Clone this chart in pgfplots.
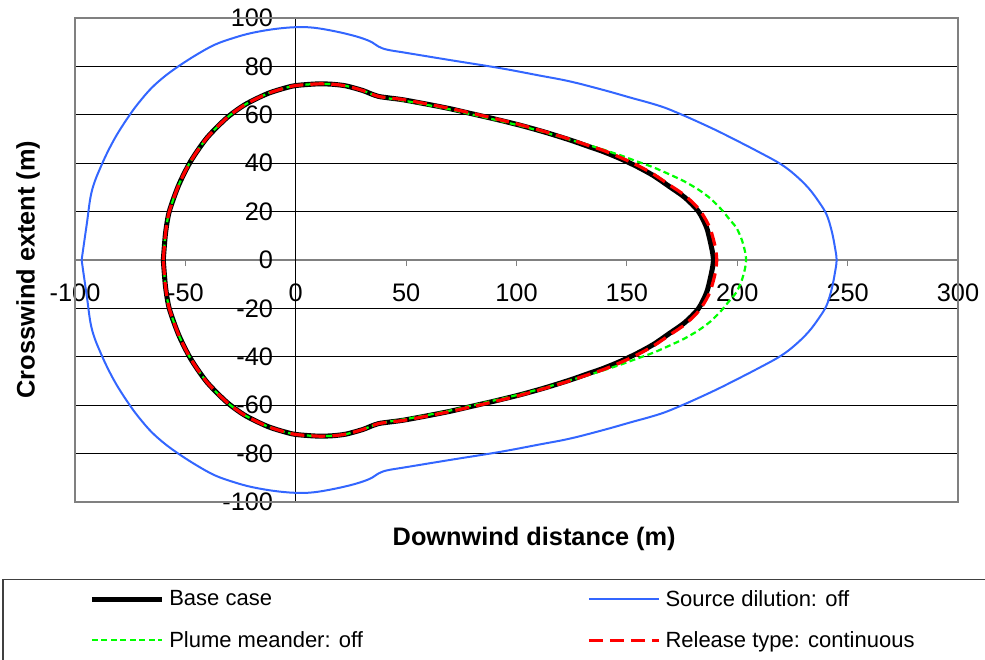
\documentclass[border=0pt]{standalone}
\usepackage{pgfplots}
\pgfplotsset{compat=1.18}
\usepackage{fontspec}
\setmainfont{Liberation Sans}
\newlength\pxu
\setlength\pxu{0.75pt}
\definecolor{dilblue}{RGB}{51,102,255}
\definecolor{megreen}{RGB}{0,255,0}
\definecolor{relred}{RGB}{255,0,0}
\newcommand{\legtext}[2]{\makebox[#1][l]{\hspace*{5\pxu}\fontsize{16.5pt}{18pt}\selectfont #2}}
\begin{document}
\begin{tikzpicture}
\useasboundingbox (0,0) rectangle (985\pxu,-660\pxu);
\begin{axis}[
  at={(75\pxu,-502\pxu)}, anchor=south west,
  scale only axis, width=883\pxu, height=484\pxu,
  xmin=-100, xmax=300, ymin=-100, ymax=100,
  axis lines=middle,
  axis line style={-},
  x axis line style={draw=gray, line width=1.2\pxu},
  y axis line style={draw=black, line width=1\pxu},
  hide obscured x ticks=false, hide obscured y ticks=false,
  xtick={-100,-50,...,300}, ytick={-100,-80,...,100},
  tick align=outside, major tick length=6\pxu,
  xtick style={draw=gray, line width=1\pxu},
  ytick style={draw=black, line width=1\pxu},
  ymajorgrids, grid style={black, line width=0.9\pxu},
  /pgf/number format/assume math mode=true,
  tick label style={font=\fontsize{19pt}{21pt}\selectfont},
  xticklabel style={anchor=north, yshift=-13\pxu},
  yticklabel style={anchor=east, xshift=-12\pxu},
  xlabel={Downwind distance (m)}, ylabel={Crosswind extent (m)},
  label style={font=\bfseries\fontsize{19pt}{21pt}\selectfont},
  xlabel style={at={(rel axis cs:0.52,0)}, anchor=center, yshift=-37\pxu},
  ylabel style={at={(rel axis cs:-0.0532,0.48)}, anchor=center, rotate=90},
  legend columns=2,
  legend cell align=left,
  legend style={at={(rel axis cs:0.0159,-0.158)}, anchor=north west, draw=none, fill=none,
    inner sep=0pt, row sep=0pt, column sep=0pt,
    nodes={inner sep=0pt}},
  legend image code/.code={\path[draw=none] (0,-20.5\pxu) -- (0,20.5\pxu); \draw[#1] (0,0) -- (70\pxu,0);},
  after end axis/.code={\draw[gray, line width=2.3\pxu] (rel axis cs:0,0) rectangle (rel axis cs:1,1);},
]
% Base case
\addplot[black, line width=5\pxu, line join=round, smooth, tension=0.45] coordinates {
(-60,0) (-59,11) (-57.3,20) (-53,31) (-47.6,40.8) (-40.3,50.4) (-31.3,58.7) (-23,64.2) (-12.4,68.9) (-1.8,71.8) (5,72.5) (11,72.8) (17,72.6) (23,71.9) (30.5,70.0) (34,68.7) (37.5,67.6) (42,67.0) (48.7,66.2) (60,64.3) (70,62.5) (79,60.6) (90,58.3) (101.6,55.7) (113,52.8) (124.2,49.6) (133,46.8) (139.3,44.8) (147,41.9) (154.4,38.7) (162,34.9) (169.5,30.2) (176.3,25.8) (182.4,20.1) (186.2,13.2) (188.4,5.0) (189.2,0)
(188.4,-5.0) (186.2,-13.2) (182.4,-20.1) (176.3,-25.8) (169.5,-30.2) (162,-34.9) (154.4,-38.7) (147,-41.9) (139.3,-44.8) (133,-46.8) (124.2,-49.6) (113,-52.8) (101.6,-55.7) (90,-58.3) (79,-60.6) (70,-62.5) (60,-64.3) (48.7,-66.2) (42,-67.0) (37.5,-67.6) (34,-68.7) (30.5,-70.0) (23,-71.9) (17,-72.6) (11,-72.8) (5,-72.5) (-1.8,-71.8) (-12.4,-68.9) (-23,-64.2) (-31.3,-58.7) (-40.3,-50.4) (-47.6,-40.8) (-53,-31) (-57.3,-20) (-59,-11) (-60,0)
};
\addlegendentry{\legtext{423\pxu}{Base case}}
% Source dilution off
\addplot[dilblue, line width=2\pxu, smooth, tension=0.6] coordinates {
(-97,0) (-94.7,14.6) (-92.4,28.4) (-87.9,39.4) (-81.9,50.4) (-75.1,60.1) (-70.3,65.9) (-65.3,71.1) (-59.5,75.8) (-53.2,80) (-45,84.8) (-36.6,89) (-28,91.8) (-20,93.8) (-10,95.4) (-0.3,96.2) (8,96) (17.8,94.5) (27,92.5) (33.6,90.4) (37.5,88.2) (41.5,86.9) (50,85.6) (70,82.6) (92.5,79.3) (110,76.3) (124.2,73.8) (140,70.1) (152,67.0) (160,65.0) (167,63.0) (174,60.4) (181,57.6) (190,53.8) (197.5,50.4) (209,45.0) (219.4,39.8) (226,35.3) (232.2,29.8) (237,24.0) (240.5,18.7) (242.8,11.9) (244.2,5.5) (245,0)
(244.2,-5.5) (242.8,-11.9) (240.5,-18.7) (237,-24.0) (232.2,-29.8) (226,-35.3) (219.4,-39.8) (209,-45.0) (197.5,-50.4) (190,-53.8) (181,-57.6) (174,-60.4) (167,-63.0) (160,-65.0) (152,-67.0) (140,-70.1) (124.2,-73.8) (110,-76.3) (92.5,-79.3) (70,-82.6) (50,-85.6) (41.5,-86.9) (37.5,-88.2) (33.6,-90.4) (27,-92.5) (17.8,-94.5) (8,-96) (-0.3,-96.2) (-10,-95.4) (-20,-93.8) (-28,-91.8) (-36.6,-89) (-45,-84.8) (-53.2,-80) (-59.5,-75.8) (-65.3,-71.1) (-70.3,-65.9) (-75.1,-60.1) (-81.9,-50.4) (-87.9,-39.4) (-92.4,-28.4) (-94.7,-14.6) (-97,0)
};
\addlegendentry{\legtext{300\pxu}{Source dilution: off}}
% Plume meander off
\addplot[megreen, line width=2.2\pxu, dash pattern=on 6\pxu off 3.5\pxu, smooth, tension=0.45] coordinates {
(-60,0) (-59,11) (-57.3,20) (-53,31) (-47.6,40.8) (-40.3,50.4) (-31.3,58.7) (-23,64.2) (-12.4,68.9) (-1.8,71.8) (5,72.5) (11,72.8) (17,72.6) (23,71.9) (30.5,70.0) (34,68.7) (37.5,67.6) (42,66.8) (48.7,65.9) (60,64.0) (70,62.2) (79,60.3) (90,58.0) (101.6,55.5) (113,52.7) (124.2,49.7) (133,47.4) (139.3,45.6) (147,43.3) (154.4,40.8) (162,38.3) (169.5,35.3) (176,32.5) (182.4,29.1) (188,25.3) (192.9,20.8) (196.5,16.8) (199.7,13.2) (202,8.5) (203.5,3.6) (204,0)
(203.5,-3.6) (202,-8.5) (199.7,-13.2) (196.5,-16.8) (192.9,-20.8) (188,-25.3) (182.4,-29.1) (176,-32.5) (169.5,-35.3) (162,-38.3) (154.4,-40.8) (147,-43.3) (139.3,-45.6) (133,-47.4) (124.2,-49.7) (113,-52.7) (101.6,-55.5) (90,-58.0) (79,-60.3) (70,-62.2) (60,-64.0) (48.7,-65.9) (42,-66.8) (37.5,-67.6) (34,-68.7) (30.5,-70.0) (23,-71.9) (17,-72.6) (11,-72.8) (5,-72.5) (-1.8,-71.8) (-12.4,-68.9) (-23,-64.2) (-31.3,-58.7) (-40.3,-50.4) (-47.6,-40.8) (-53,-31) (-57.3,-20) (-59,-11) (-60,0)
};
\addlegendentry{\legtext{423\pxu}{Plume meander: off}}
% Release type continuous
\addplot[relred, line width=3.2\pxu, dash pattern=on 14\pxu off 7\pxu, smooth, tension=0.45] coordinates {
(-60,0) (-59,11) (-57.3,20) (-53,31) (-47.6,40.8) (-40.3,50.4) (-31.3,58.7) (-23,64.2) (-12.4,68.9) (-1.8,71.8) (5,72.5) (11,72.8) (17,72.6) (23,71.9) (30.5,70.0) (34,68.7) (37.5,67.6) (42,67.0) (48.7,66.3) (60,64.4) (70,62.6) (79,60.8) (90,58.5) (101.6,55.9) (113,53.0) (124.2,49.9) (133,47.2) (139.3,45.3) (147,42.4) (154.4,39.3) (162,35.5) (169.5,30.9) (176.5,26.5) (183,20.6) (187.5,13.5) (190,5.5) (190.7,0)
(190,-5.5) (187.5,-13.5) (183,-20.6) (176.5,-26.5) (169.5,-30.9) (162,-35.5) (154.4,-39.3) (147,-42.4) (139.3,-45.3) (133,-47.2) (124.2,-49.9) (113,-53.0) (101.6,-55.9) (90,-58.5) (79,-60.8) (70,-62.6) (60,-64.4) (48.7,-66.3) (42,-67.0) (37.5,-67.6) (34,-68.7) (30.5,-70.0) (23,-71.9) (17,-72.6) (11,-72.8) (5,-72.5) (-1.8,-71.8) (-12.4,-68.9) (-23,-64.2) (-31.3,-58.7) (-40.3,-50.4) (-47.6,-40.8) (-53,-31) (-57.3,-20) (-59,-11) (-60,0)
};
\addlegendentry{\legtext{300\pxu}{Release type: continuous}}
\end{axis}
\draw[black!75, line width=1.2\pxu] (3\pxu,-579.5\pxu) rectangle (1010\pxu,-720\pxu);
\end{tikzpicture}
\end{document}
